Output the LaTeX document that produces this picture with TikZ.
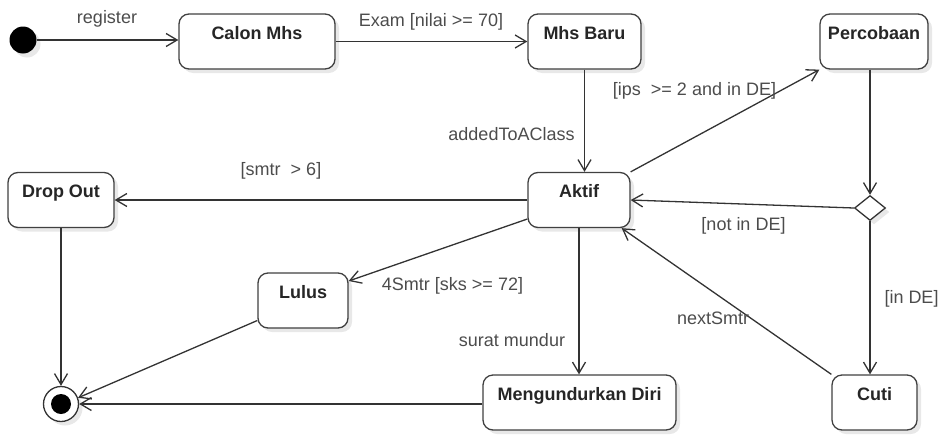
\documentclass[tikz,border=0pt]{standalone}
\usepackage{fontspec}
\setmainfont{Liberation Sans}
\usetikzlibrary{arrows.meta,shapes.geometric,shadows}
\begin{document}
\begin{tikzpicture}[x=1pt,y=-1pt,
  softshadow/.style={drop shadow={shadow xshift=4pt,shadow yshift=-4pt,fill=black!9,opacity=1}},
  stbox/.style={draw=black!75, line width=1.3pt, rounded corners=10pt, fill=white,
    inner sep=0pt, text height=25pt, text depth=30pt, minimum width=#1,
    font=\fontsize{18}{20}\selectfont\bfseries, text=black!85, softshadow},
  lbl/.style={font=\fontsize{18}{20}\selectfont, text=black!70, inner sep=0pt, anchor=base},
  trans/.style={draw=black!80, line width=1.3pt, -{Straight Barb[length=11pt,width=13pt]}},
]
\useasboundingbox (0,0) rectangle (941,434);

% pseudo-states
\node[circle, fill=black, minimum size=27pt, inner sep=0pt, softshadow] (init) at (23,40) {};
\node[circle, draw=black!80, line width=1.3pt, fill=white, minimum size=35pt, inner sep=0pt, softshadow] (final) at (61,404) {};
\node[circle, fill=black, minimum size=20pt, inner sep=0pt] (finaldot) at (final) {};
\node[diamond, draw=black!80, line width=1.3pt, fill=white, minimum width=31pt, minimum height=25pt, inner sep=0pt, softshadow] (dia) at (870,208) {};

% states
\node[stbox=156pt] (calon) at (257,41.5) {Calon Mhs};
\node[stbox=113pt] (mb)    at (584.5,41.5) {Mhs Baru};
\node[stbox=108pt] (perc)  at (874,41.5) {Percobaan};
\node[stbox=106pt] (drop)  at (61,200) {Drop Out};
\node[stbox=102pt] (aktif) at (579,200) {Aktif};
\node[stbox=90pt]  (lulus) at (303,300.5) {Lulus};
\node[stbox=193pt] (mund)  at (579.5,402.5) {Mengundurkan Diri};
\node[stbox=85pt]  (cuti)  at (874.5,402.5) {Cuti};

% transitions
\draw[trans] (init.east) -- (init.east -| calon.west);
\draw[trans] (calon) -- (mb);
\draw[trans] (mb.south) -- (mb.south |- aktif.north);
\draw[trans] (aktif.north east) -- (perc.south west);
\draw[trans] (dia.north |- perc.south) -- (dia.north);
\draw[trans] (dia.west) -- (aktif.east);
\draw[trans] (dia.south) -- (dia.south |- cuti.north);
\draw[trans] (cuti.north west) -- ([xshift=-9pt]aktif.south east);
\draw[trans] (aktif.west) -- (drop.east);
\draw[trans] ([yshift=-19pt]aktif.west) -- ([yshift=19.5pt]lulus.east);
\draw[trans] (aktif.south) -- (aktif.south |- mund.north);
\draw[trans] (drop.south) -- (final.north);
\draw[trans] ([yshift=-20pt]lulus.west) -- (final.20);
\draw[trans] (final.east -| mund.west) -- (final.east);

% transition labels
\node[lbl] (lreg)   at (107,23)   {register};
\node[lbl] (lexam)  at (431,26)   {Exam [nilai >= 70]};
\node[lbl] (ladd)   at (511.5,140) {addedToAClass};
\node[lbl] (lips)   at (694.5,95) {[ips\ \ >= 2 and in DE]};
\node[lbl] (lnot)   at (743.5,230) {[not in DE]};
\node[lbl] (lin)    at (911.5,303) {[in DE]};
\node[lbl] (lnext)  at (713,324)  {nextSmtr};
\node[lbl] (lsmtr)  at (281,175)  {[smtr\ \ > 6]};
\node[lbl] (lsks)   at (452.5,290) {4Smtr [sks >= 72]};
\node[lbl] (lsurat) at (512,346)  {surat mundur};
\end{tikzpicture}
\end{document}
